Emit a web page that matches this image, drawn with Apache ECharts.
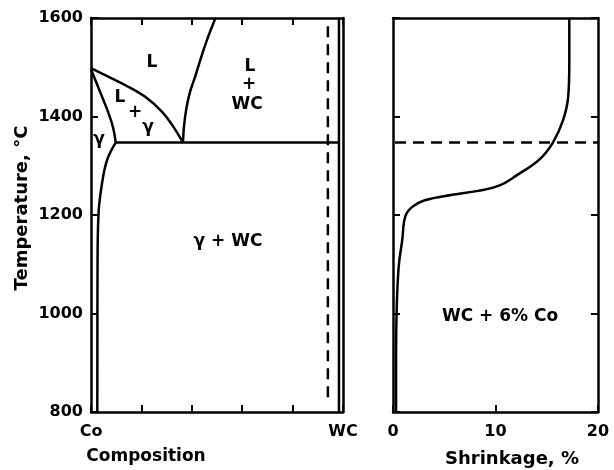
<!DOCTYPE html>
<html>
<head>
<meta charset="utf-8">
<script src="https://cdn.jsdelivr.net/npm/echarts@6/dist/echarts.min.js"></script>
<style>html,body{margin:0;padding:0;background:#fff}#c{width:614px;height:470px}</style>
</head>
<body>
<div id="c"></div>
<script>
// ---- data (composition %, temperature °C) ----
const tempTicks = [800, 1000, 1200, 1400, 1600];
const compLabels = ['Co', 'WC'];
const shrinkTicks = [0, 10, 20];
const liquidusCo = [[0,1498],[5.6,1484],[13.5,1464],[21.5,1440],[28.3,1409],[32.7,1379],[36.5,1347]];
const solidusGamma = [[0,1496],[3.6,1450],[6.8,1409],[8.8,1377],[9.8,1347]];
const solvusGamma = [[9.8,1347],[6.4,1312],[4.4,1265],[3.0,1204],[2.6,1100],[2.5,800]];
const eutectic = [[9.8,1347],[98.4,1347]];
const liquidusWC = [[36.5,1347],[36.9,1380],[37.8,1415],[39.3,1450],[41.4,1482],[43.4,1515],[46.0,1555],[49.4,1600]];
const alloyLine = [[94,830],[94,1590]];
const wcLine = [[98.4,800],[98.4,1600]];
const shrinkage = [[0.3,800],[0.3,900],[0.35,1000],[0.55,1094],[0.9,1149],[1.2,1197],[1.85,1216],[3.1,1230],[5.8,1241],[8.3,1249],[10.4,1260],[12.1,1281],[14.3,1313],[15.6,1347],[16.6,1393],[17.1,1442],[17.2,1508],[17.2,1600]];
const eutecticShrink = [[0.2,1347],[20,1347]];

const FONT = 'DejaVu Sans';
const txt = (t, x, y, size, extra) => Object.assign({
  type: 'text', x: x, y: y,
  style: { text: t, font: 'bold ' + (size || 17) + 'px "' + FONT + '"', fill: '#000', textAlign: 'center', textVerticalAlign: 'middle' }
}, extra || {});

const chart = echarts.init(document.getElementById('c'));
const LW = 2.5;
const axLine = { show: true, onZero: false, lineStyle: { color: '#000', width: LW } };
const tickIn = (len) => ({ show: true, inside: true, length: len, lineStyle: { color: '#000', width: 2 } });
const lab = { color: '#000', fontFamily: FONT, fontWeight: 'bold', fontSize: 16 };
const lineS = (xi, yi, data, extra) => Object.assign({
  type: 'line', xAxisIndex: xi, yAxisIndex: yi, data: data, symbol: 'none',
  lineStyle: { color: '#000', width: LW }, silent: true, animation: false
}, extra || {});
const dashed = { color: '#000', width: 2.5, type: [11, 7] };

chart.setOption({
  animation: false,
  grid: [
    { left: 91, top: 18, width: 252, height: 394 },
    { left: 393, top: 18, width: 205, height: 394 }
  ],
  xAxis: [
    { gridIndex: 0, type: 'value', position: 'bottom', min: 0, max: 100, interval: 20,
      axisLine: axLine, axisTick: tickIn(7), splitLine: { show: false },
      axisLabel: Object.assign({}, lab, { margin: 12, formatter: v => v === 0 ? compLabels[0] : (v === 100 ? compLabels[1] : '') }) },
    { gridIndex: 0, type: 'value', position: 'top', min: 0, max: 100, interval: 20,
      axisLine: axLine, axisTick: tickIn(7), splitLine: { show: false }, axisLabel: { show: false } },
    { gridIndex: 1, type: 'value', position: 'bottom', min: 0, max: 20, interval: 10,
      axisLine: axLine, axisTick: tickIn(7), splitLine: { show: false },
      axisLabel: Object.assign({}, lab, { margin: 12, formatter: v => shrinkTicks.includes(v) ? String(v) : '' }) },
    { gridIndex: 1, type: 'value', position: 'top', min: 0, max: 20, interval: 10,
      axisLine: axLine, axisTick: { show: false }, splitLine: { show: false }, axisLabel: { show: false } }
  ],
  yAxis: [
    { gridIndex: 0, type: 'value', position: 'left', min: 800, max: 1600, interval: 200,
      axisLine: axLine, axisTick: tickIn(7), splitLine: { show: false },
      axisLabel: Object.assign({}, lab, { margin: 8, formatter: v => tempTicks.includes(v) ? String(v) : '' }) },
    { gridIndex: 0, type: 'value', position: 'right', min: 800, max: 1600, interval: 200,
      axisLine: axLine, axisTick: { show: false }, splitLine: { show: false }, axisLabel: { show: false } },
    { gridIndex: 1, type: 'value', position: 'left', min: 800, max: 1600, interval: 200,
      axisLine: axLine, axisTick: tickIn(7), splitLine: { show: false }, axisLabel: { show: false } },
    { gridIndex: 1, type: 'value', position: 'right', min: 800, max: 1600, interval: 200,
      axisLine: axLine, axisTick: tickIn(7), splitLine: { show: false }, axisLabel: { show: false } }
  ],
  series: [
    lineS(0, 0, liquidusCo, { smooth: 0.4 }),
    lineS(0, 0, solidusGamma, { smooth: 0.4 }),
    lineS(0, 0, solvusGamma, { smooth: 0.4 }),
    lineS(0, 0, eutectic),
    lineS(0, 0, liquidusWC, { smooth: 0.4 }),
    lineS(0, 0, alloyLine, { lineStyle: dashed }),
    lineS(0, 0, wcLine),
    lineS(2, 2, shrinkage, { smooth: 0.4 }),
    lineS(2, 2, eutecticShrink, { lineStyle: dashed })
  ],
  graphic: [
    txt('L', 152, 63),
    txt('L', 120, 98), txt('+', 135, 113), txt('γ', 148, 128),
    txt('γ', 99, 140),
    txt('L', 250, 67), txt('+', 249, 85), txt('WC', 247, 105),
    txt('γ + WC', 228, 242),
    txt('WC + 6% Co', 500, 317),
    txt('Composition', 146, 457),
    txt('Shrinkage, %', 512, 459, 18),
    txt('Temperature, °C', 22, 208, 18, { rotation: Math.PI / 2 })
  ]
});
</script>
</body>
</html>
